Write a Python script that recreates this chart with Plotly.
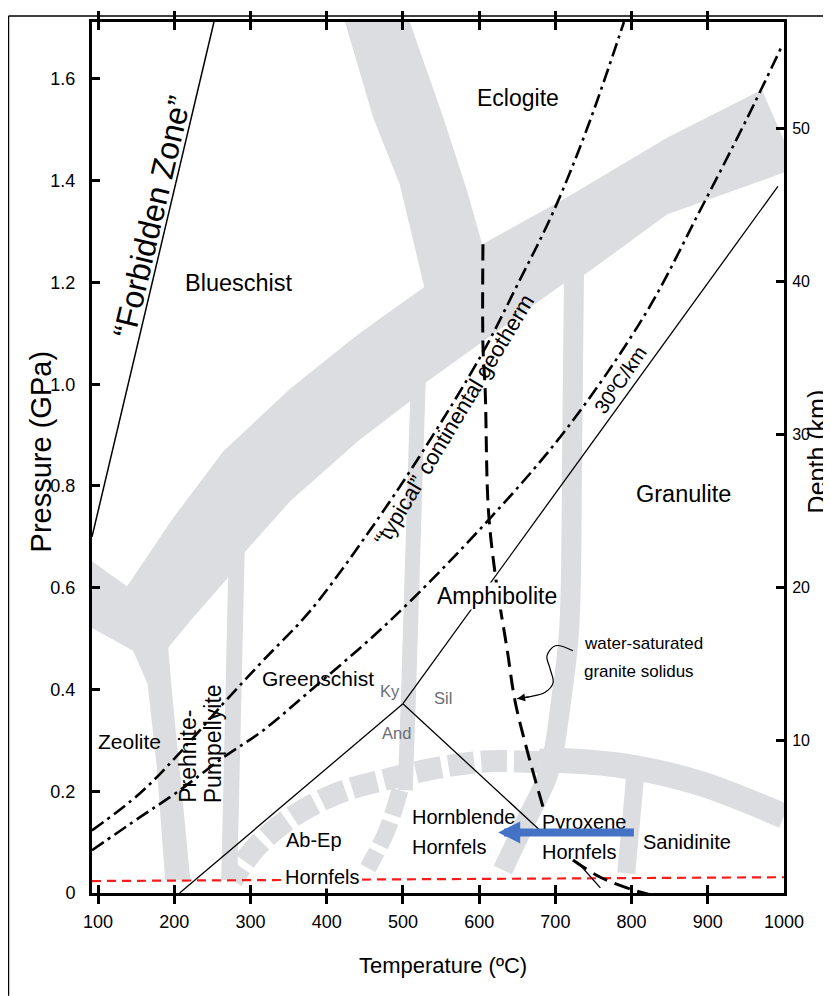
import plotly.graph_objects as go

# ---------------- data ----------------
T_TICKS = [100, 200, 300, 400, 500, 600, 700, 800, 900, 1000]
P_TICKS = [0, 0.2, 0.4, 0.6, 0.8, 1.0, 1.2, 1.4, 1.6]
P_TICK_TEXT = ["0", "0.2", "0.4", "0.6", "0.8", "1.0", "1.2", "1.4", "1.6"]
DEPTH_TICKS = [10, 20, 30, 40, 50]
T_RANGE = [92, 1000]
P_RANGE = [0, 1.712]
GPA_PER_KM = 0.03006

# big grey facies boundary band (blueschist / eclogite / greenschist / zeolite)
BAND_MAIN_T = [424, 509, 553, 584, 604, 715, 847, 971, 1000, 1000,
               847, 739, 710, 605, 526, 509, 440, 352, 290, 270,
               221, 192, 198, 211, 221, 188, 177, 165, 146, 92,
               92, 138, 198, 264, 352, 440, 528, 496, 461]
BAND_MAIN_P = [1.712, 1.712, 1.524, 1.381, 1.275, 1.367, 1.485, 1.579, 1.479, 1.416,
               1.334, 1.216, 1.197, 1.083, 0.999, 0.966, 0.887, 0.770, 0.666, 0.619,
               0.535, 0.482, 0.378, 0.182, 0.025, 0.025, 0.247, 0.411, 0.476, 0.521,
               0.652, 0.603, 0.736, 0.868, 0.991, 1.097, 1.191, 1.392, 1.524]
# narrower grey boundary bands (centre lines)
BAND_PP_T = [282, 272]
BAND_PP_P = [0.682, 0.025]
BAND_GS_T = [520, 513, 507, 503]
BAND_GS_P = [1.005, 0.672, 0.378, 0.202]
BAND_AG_T = [724.5, 722, 718, 707.5, 698, 689, 660, 631]
BAND_AG_P = [1.230, 0.868, 0.515, 0.378, 0.280, 0.227, 0.137, 0.045]
BAND_SAN_T = [806, 793]
BAND_SAN_P = [0.250, 0.039]
CONTACT_SOLID_T = [680, 715, 802, 891, 1000]
CONTACT_SOLID_P = [0.259, 0.260, 0.247, 0.215, 0.151]
CONTACT_DASH_T = [680, 614, 549, 483, 417.5, 352, 306, 276]
CONTACT_DASH_P = [0.257, 0.259, 0.247, 0.225, 0.198, 0.147, 0.088, 0.025]
ABEP_DASH_T = [496, 479, 454]
ABEP_DASH_P = [0.202, 0.123, 0.049]

# lines
FORBIDDEN_T = [92, 252]
FORBIDDEN_P = [0.70, 1.712]
GEOTHERM_T = [92, 155, 207.5, 264, 316, 378, 453, 526, 605, 650, 697, 742, 790]
GEOTHERM_P = [0.123, 0.196, 0.276, 0.372, 0.456, 0.554, 0.705, 0.868, 1.063, 1.195, 1.338, 1.504, 1.712]
GRAD30_T = [92, 155, 203.5, 264, 316, 374, 483, 614, 715, 818, 890, 952, 996]
GRAD30_P = [0.084, 0.149, 0.198, 0.266, 0.319, 0.392, 0.535, 0.736, 0.913, 1.138, 1.342, 1.524, 1.661]
KY_AND_T = [207, 500]
KY_AND_P = [0.0, 0.372]
KY_SIL_T = [500, 992]
KY_SIL_P = [0.372, 1.389]
AND_SIL_T = [500, 680]
AND_SIL_P = [0.372, 0.123]
SOLIDUS_T = [605, 605, 608, 612, 621, 637, 647, 663, 684, None, 723, 759, 802, 837]
SOLIDUS_P = [1.275, 1.077, 0.985, 0.756, 0.627, 0.476, 0.378, 0.280, 0.168, None, 0.065, 0.031, 0.006, -0.008]
THIN_T = [729, 759]
THIN_P = [0.061, 0.010]
SURFACE_T = [92, 1000]
SURFACE_P = [0.0235, 0.031]
CURL_T = [723, 700, 689, 693, 697, 686, 667, 650]
CURL_P = [0.476, 0.486, 0.466, 0.441, 0.413, 0.394, 0.386, 0.382]
ARROW_T = [805, 625]
ARROW_P = [0.119, 0.119]

# ---------------- styling ----------------
GRAY = "#dcdde0"
REG = "Liberation Sans, Arial, Helvetica, sans-serif"

fig = go.Figure()


def poly(T, P):
    fig.add_trace(go.Scatter(x=T, y=P, mode="lines", fill="toself", fillcolor=GRAY,
                             line=dict(width=0, color=GRAY), hoverinfo="skip", showlegend=False))


def line(T, P, color, width, dash="solid", shape="linear"):
    fig.add_trace(go.Scatter(x=T, y=P, mode="lines", connectgaps=False,
                             line=dict(color=color, width=width, dash=dash, shape=shape),
                             hoverinfo="skip", showlegend=False))


poly(BAND_MAIN_T, BAND_MAIN_P)
line(BAND_PP_T, BAND_PP_P, GRAY, 16)
line(BAND_GS_T, BAND_GS_P, GRAY, 15, shape="spline")
line(BAND_AG_T, BAND_AG_P, GRAY, 20, shape="spline")
line(BAND_SAN_T, BAND_SAN_P, GRAY, 18)
line(CONTACT_SOLID_T, CONTACT_SOLID_P, GRAY, 25, shape="spline")
line(CONTACT_DASH_T, CONTACT_DASH_P, GRAY, 22, dash="26px,7px", shape="spline")
line(ABEP_DASH_T, ABEP_DASH_P, GRAY, 17, dash="26px,7px", shape="spline")

line(SURFACE_T, SURFACE_P, "#ff1a1a", 2.2, dash="9px,6px")
line(FORBIDDEN_T, FORBIDDEN_P, "black", 1.5)
line(KY_AND_T, KY_AND_P, "black", 1.3)
line(KY_SIL_T, KY_SIL_P, "black", 1.3)
line(AND_SIL_T, AND_SIL_P, "black", 1.3)
line(GEOTHERM_T, GEOTHERM_P, "black", 2.6, dash="14px,5px,3px,5px", shape="spline")
line(GRAD30_T, GRAD30_P, "black", 2.6, dash="14px,5px,3px,5px", shape="spline")
line(SOLIDUS_T, SOLIDUS_P, "black", 3, dash="16px,8px", shape="spline")
line(THIN_T, THIN_P, "black", 1.3)
line(CURL_T, CURL_P, "black", 1.2, shape="spline")

# depth axis carrier
fig.add_trace(go.Scatter(x=[None], y=[None], yaxis="y2", showlegend=False, hoverinfo="skip"))

ann = []


def label(text, T, P, size, color="black", angle=0, xanchor="center",
          yanchor="middle", bg=None):
    d = dict(text=text, x=T, y=P, xref="x", yref="y", showarrow=False,
             font=dict(family=REG, size=size, color=color), textangle=angle,
             xanchor=xanchor, yanchor=yanchor)
    if bg:
        d["bgcolor"] = bg
        d["borderpad"] = 0
    ann.append(d)


label("Eclogite", 651, 1.563, 23)
label("Blueschist", 285, 1.199, 23.5)
label("Granulite", 867.6, 0.785, 23.5)
label("Amphibolite", 623.5, 0.584, 23, bg="white")
label("Greenschist", 388.6, 0.421, 21)
label("Zeolite", 140.6, 0.298, 21)
label("Prehnite-", 218, 0.1723, 23, angle=-90, yanchor="bottom")
label("Pumpellyite", 250, 0.1723, 23, angle=-90, yanchor="bottom")
label("Ky", 483, 0.398, 16.5, color="#6d6e73")
label("Sil", 553, 0.384, 16.5, color="#6d6e73")
label("And", 492, 0.315, 16.5, color="#6d6e73")
label("water-saturated", 735, 0.4896, 17, xanchor="left")
label("granite solidus", 735, 0.4348, 17, xanchor="left")
label("Hornblende", 509.3, 0.1488, 20, xanchor="left")
label("Hornfels", 509.3, 0.0901, 20, xanchor="left")
label("Pyroxene", 680, 0.1391, 20, xanchor="left")
label("Hornfels", 680, 0.0803, 20, xanchor="left")
label("Sanidinite", 872.8, 0.100, 20)
label("Ab-Ep", 344, 0.1038, 20, xanchor="left")
label("Hornfels", 344, 0.0313, 20, xanchor="left", bg="white")
label("\u201cForbidden Zone\u201d", 171, 1.328, 32, angle=-76.7)
label("\u201ctypical\u201d continental geotherm", 568, 0.930, 22, angle=-59)
label("30\u00baC/km", 785, 1.009, 20, angle=-55.8)

# curly arrow head and blue arrow
ann.append(dict(x=CURL_T[-1], y=CURL_P[-1], ax=CURL_T[-2], ay=CURL_P[-2], xref="x", yref="y",
                axref="x", ayref="y", text="", showarrow=True, arrowhead=2, arrowsize=1.3,
                arrowwidth=1.2, arrowcolor="black"))
ann.append(dict(x=ARROW_T[1], y=ARROW_P[1], ax=ARROW_T[0], ay=ARROW_P[0], xref="x", yref="y",
                axref="x", ayref="y", text="", showarrow=True, arrowhead=2, arrowsize=0.55,
                arrowwidth=8, arrowcolor="#4472C4"))

# axis titles
ann.append(dict(text="Pressure (GPa)", x=-0.0737, y=0.507, xref="paper", yref="paper",
                xanchor="center", yanchor="middle",
                showarrow=False, textangle=-90, font=dict(family=REG, size=29, color="black")))
ann.append(dict(text="Depth (km)", x=1.0477, y=0.507, xref="paper", yref="paper",
                xanchor="center", yanchor="middle",
                showarrow=False, textangle=-90, font=dict(family=REG, size=25, color="black")))
ann.append(dict(text="Temperature (\u00baC)", x=0.507, y=-0.0835, xref="paper", yref="paper",
                xanchor="center", yanchor="middle",
                showarrow=False, font=dict(family=REG, size=22, color="black")))

# the page body adds an 8px offset, so the figure is 8px smaller and margins shifted
fig.update_layout(
    width=823, height=988,
    margin=dict(l=84, r=47, t=11, b=103),
    paper_bgcolor="white", plot_bgcolor="white",
    annotations=ann,
    xaxis=dict(range=T_RANGE, tickvals=T_TICKS, ticks="inside", ticklen=8, tickwidth=3,
               tickcolor="black", showline=True, linewidth=3, linecolor="black",
               mirror="allticks", showgrid=False, zeroline=False, ticklabelstandoff=10,
               tickfont=dict(family=REG, size=18, color="black")),
    yaxis=dict(range=P_RANGE, tickvals=P_TICKS, ticktext=P_TICK_TEXT, ticks="inside",
               ticklen=8, tickwidth=3, tickcolor="black", showline=True, linewidth=3,
               linecolor="black", mirror=False, showgrid=False, zeroline=False,
               ticklabelstandoff=10, tickfont=dict(family=REG, size=18, color="black")),
    yaxis2=dict(range=[P_RANGE[0] / GPA_PER_KM, P_RANGE[1] / GPA_PER_KM], overlaying="y",
                side="right", tickvals=DEPTH_TICKS, ticks="inside", ticklen=8, tickwidth=3,
                tickcolor="black", showline=True, linewidth=3, linecolor="black",
                showgrid=False, zeroline=False, ticklabelstandoff=2,
                tickfont=dict(family=REG, size=16, color="black")),
    shapes=[
        dict(type="line", xref="paper", yref="paper", x0=-0.1207, x1=-0.1207, y0=-0.118, y1=1.0069,
             line=dict(color="black", width=1.5)),
        dict(type="line", xref="paper", yref="paper", x0=-0.1207, x1=1.068, y0=1.0069, y1=1.0069,
             line=dict(color="black", width=1.5)),
    ],
)

fig.write_html("out.html")
